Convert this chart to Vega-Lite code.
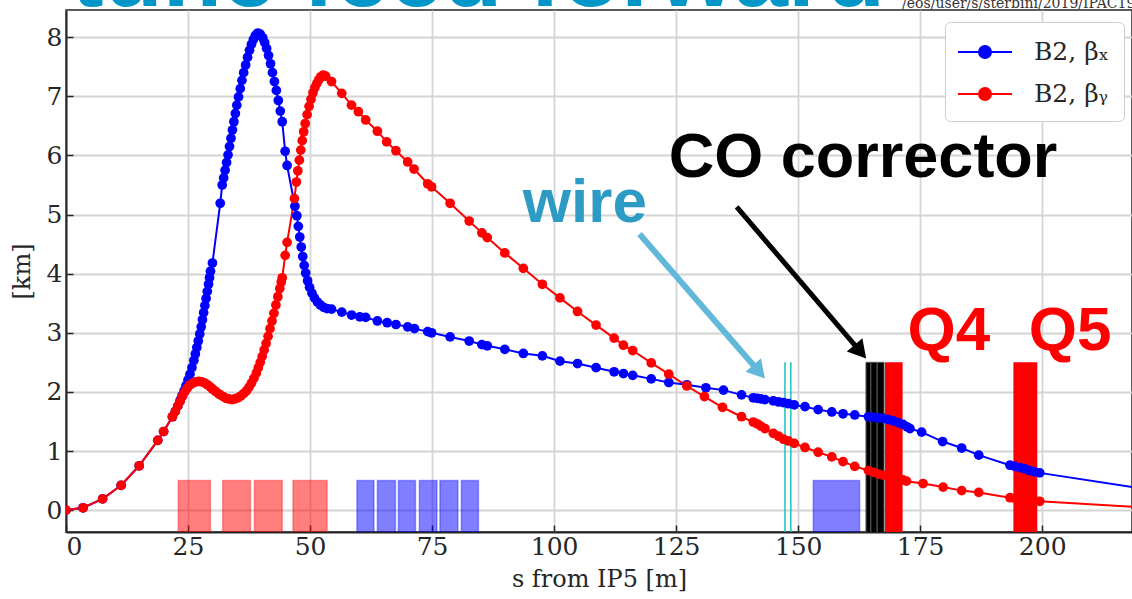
{
"$schema":"https://vega.github.io/schema/vega-lite/v6.json",
"autosize":{"type":"none"},
"width":1066,"height":522,
"padding":{"left":66,"top":10,"right":0,"bottom":67},
"background":"white",
"datasets":{
"elements":[
{"kind":"triplet","s0":23.0,"s1":29.6,"lo":-0.5,"hi":0.5},
{"kind":"triplet","s0":32.1,"s1":37.8,"lo":-0.5,"hi":0.5},
{"kind":"triplet","s0":38.6,"s1":44.3,"lo":-0.5,"hi":0.5},
{"kind":"triplet","s0":46.5,"s1":53.5,"lo":-0.5,"hi":0.5},
{"kind":"dipole","s0":59.6,"s1":63.1,"lo":-0.5,"hi":0.5},
{"kind":"dipole","s0":63.8,"s1":67.5,"lo":-0.5,"hi":0.5},
{"kind":"dipole","s0":68.1,"s1":71.6,"lo":-0.5,"hi":0.5},
{"kind":"dipole","s0":72.4,"s1":76.0,"lo":-0.5,"hi":0.5},
{"kind":"dipole","s0":76.6,"s1":80.3,"lo":-0.5,"hi":0.5},
{"kind":"dipole","s0":81.0,"s1":84.5,"lo":-0.5,"hi":0.5},
{"kind":"dipole","s0":153.1,"s1":162.6,"lo":-0.5,"hi":0.5},
{"kind":"corrector","s0":163.9,"s1":164.9,"lo":-0.5,"hi":2.5},
{"kind":"corrector","s0":164.9,"s1":166.2,"lo":-0.5,"hi":2.5},
{"kind":"corrector","s0":166.2,"s1":167.6,"lo":-0.5,"hi":2.5},
{"kind":"quad","s0":167.8,"s1":171.4,"lo":-0.5,"hi":2.5},
{"kind":"quad","s0":194.1,"s1":199.0,"lo":-0.5,"hi":2.5},
{"kind":"wire","s0":147.3,"s1":147.3,"lo":-0.5,"hi":2.5},
{"kind":"wire","s0":148.5,"s1":148.5,"lo":-0.5,"hi":2.5}
],
"labels":[
{"t":"wire","s":106.3,"y":4.87},
{"t":"CO corrector","s":163.3,"y":5.63},
{"t":"Q4","s":180.9,"y":2.71},
{"t":"Q5","s":205.7,"y":2.71},
{"t":"tune feed forward","s":167.8,"y":8.52},
{"t":"/eos/user/s/sterbini/2019/IPAC19","s":171.3,"y":8.50}
],
"arrows":[
{"name":"wire","s0":117.5,"y0":4.67,"s1":142.0,"y1":2.34},
{"name":"co","s0":137.4,"y0":5.13,"s1":162.75,"y1":2.68}
],
"optics":[
{"c":"x","s":0,"b":0},{"c":"x","s":3.5,"b":0.04},{"c":"x","s":7.5,"b":0.19},{"c":"x","s":11.3,"b":0.42},{"c":"x","s":15,"b":0.75},{"c":"x","s":18.8,"b":1.18},{"c":"x","s":20,"b":1.33},{"c":"x","s":21.8,"b":1.58},{"c":"x","s":22.4,"b":1.67},{"c":"x","s":22.9,"b":1.76},{"c":"x","s":23.4,"b":1.86},{"c":"x","s":23.8,"b":1.94},{"c":"x","s":24.2,"b":2.02},{"c":"x","s":24.6,"b":2.11},{"c":"x","s":25,"b":2.2},{"c":"x","s":25.4,"b":2.3},{"c":"x","s":25.8,"b":2.41},{"c":"x","s":26.2,"b":2.53},{"c":"x","s":26.5,"b":2.64},{"c":"x","s":26.8,"b":2.75},{"c":"x","s":27.1,"b":2.86},{"c":"x","s":27.4,"b":2.98},{"c":"x","s":27.7,"b":3.1},{"c":"x","s":27.95,"b":3.22},{"c":"x","s":28.2,"b":3.34},{"c":"x","s":28.45,"b":3.46},{"c":"x","s":28.7,"b":3.58},{"c":"x","s":28.95,"b":3.7},{"c":"x","s":29.2,"b":3.82},{"c":"x","s":29.4,"b":3.93},{"c":"x","s":29.6,"b":4.04},{"c":"x","s":30,"b":4.18},{"c":"x","s":31.6,"b":5.19},{"c":"x","s":32,"b":5.5},{"c":"x","s":32.3,"b":5.62},{"c":"x","s":32.6,"b":5.75},{"c":"x","s":32.9,"b":5.88},{"c":"x","s":33.2,"b":6.01},{"c":"x","s":33.5,"b":6.15},{"c":"x","s":33.8,"b":6.29},{"c":"x","s":34.1,"b":6.43},{"c":"x","s":34.4,"b":6.57},{"c":"x","s":34.7,"b":6.71},{"c":"x","s":35,"b":6.85},{"c":"x","s":35.35,"b":6.99},{"c":"x","s":35.7,"b":7.13},{"c":"x","s":36.05,"b":7.27},{"c":"x","s":36.4,"b":7.4},{"c":"x","s":36.8,"b":7.53},{"c":"x","s":37.2,"b":7.66},{"c":"x","s":37.6,"b":7.78},{"c":"x","s":38,"b":7.88},{"c":"x","s":38.4,"b":7.96},{"c":"x","s":38.8,"b":8.03},{"c":"x","s":39.3,"b":8.07},{"c":"x","s":39.8,"b":8.05},{"c":"x","s":40.3,"b":7.99},{"c":"x","s":40.7,"b":7.91},{"c":"x","s":41.1,"b":7.81},{"c":"x","s":41.5,"b":7.69},{"c":"x","s":41.9,"b":7.55},{"c":"x","s":42.3,"b":7.4},{"c":"x","s":42.7,"b":7.25},{"c":"x","s":43.1,"b":7.1},{"c":"x","s":43.5,"b":6.93},{"c":"x","s":43.9,"b":6.75},{"c":"x","s":44.3,"b":6.57},{"c":"x","s":44.9,"b":6.07},{"c":"x","s":45.3,"b":5.83},{"c":"x","s":46.9,"b":5.14},{"c":"x","s":47.3,"b":4.98},{"c":"x","s":47.6,"b":4.8},{"c":"x","s":47.9,"b":4.62},{"c":"x","s":48.2,"b":4.45},{"c":"x","s":48.5,"b":4.29},{"c":"x","s":48.8,"b":4.14},{"c":"x","s":49.1,"b":4.01},{"c":"x","s":49.5,"b":3.88},{"c":"x","s":49.9,"b":3.77},{"c":"x","s":50.4,"b":3.67},{"c":"x","s":50.9,"b":3.59},{"c":"x","s":51.5,"b":3.52},{"c":"x","s":52.1,"b":3.47},{"c":"x","s":52.8,"b":3.43},{"c":"x","s":53.5,"b":3.41},{"c":"x","s":54.4,"b":3.4},{"c":"x","s":56.5,"b":3.35},{"c":"x","s":58.5,"b":3.3},{"c":"x","s":60.2,"b":3.27},{"c":"x","s":61.4,"b":3.26},{"c":"x","s":63.8,"b":3.2},{"c":"x","s":65.8,"b":3.17},{"c":"x","s":67.6,"b":3.14},{"c":"x","s":70,"b":3.1},{"c":"x","s":71.4,"b":3.07},{"c":"x","s":74.1,"b":3.02},{"c":"x","s":74.9,"b":3.0},{"c":"x","s":78.7,"b":2.93},{"c":"x","s":82.6,"b":2.86},{"c":"x","s":85.2,"b":2.8},{"c":"x","s":86.3,"b":2.78},{"c":"x","s":89.9,"b":2.72},{"c":"x","s":93.7,"b":2.65},{"c":"x","s":97.6,"b":2.61},{"c":"x","s":101.2,"b":2.52},{"c":"x","s":104.8,"b":2.48},{"c":"x","s":108.6,"b":2.41},{"c":"x","s":112.3,"b":2.34},{"c":"x","s":114.2,"b":2.31},{"c":"x","s":116.1,"b":2.28},{"c":"x","s":119.9,"b":2.22},{"c":"x","s":123.5,"b":2.16},{"c":"x","s":127.2,"b":2.12},{"c":"x","s":131.1,"b":2.07},{"c":"x","s":134.7,"b":2.03},{"c":"x","s":138.4,"b":1.95},{"c":"x","s":140.8,"b":1.9},{"c":"x","s":141.6,"b":1.89},{"c":"x","s":142.4,"b":1.88},{"c":"x","s":143.2,"b":1.87},{"c":"x","s":144.9,"b":1.85},{"c":"x","s":146,"b":1.83},{"c":"x","s":147,"b":1.82},{"c":"x","s":148,"b":1.8},{"c":"x","s":149.2,"b":1.78},{"c":"x","s":151.4,"b":1.75},{"c":"x","s":154.1,"b":1.7},{"c":"x","s":156.9,"b":1.66},{"c":"x","s":159.2,"b":1.63},{"c":"x","s":161.6,"b":1.61},{"c":"x","s":164.4,"b":1.58},{"c":"x","s":165.5,"b":1.57},{"c":"x","s":166.5,"b":1.56},{"c":"x","s":167.5,"b":1.55},{"c":"x","s":168.5,"b":1.53},{"c":"x","s":169.5,"b":1.51},{"c":"x","s":170.5,"b":1.48},{"c":"x","s":171.5,"b":1.45},{"c":"x","s":172.3,"b":1.41},{"c":"x","s":172.9,"b":1.38},{"c":"x","s":175.3,"b":1.32},{"c":"x","s":179.6,"b":1.16},{"c":"x","s":183.5,"b":1.05},{"c":"x","s":187,"b":0.93},{"c":"x","s":193.4,"b":0.76},{"c":"x","s":194.4,"b":0.74},{"c":"x","s":195.4,"b":0.72},{"c":"x","s":196.4,"b":0.7},{"c":"x","s":197.4,"b":0.67},{"c":"x","s":198.4,"b":0.65},{"c":"x","s":199.5,"b":0.63},{"c":"x","s":222,"b":0.345},
{"c":"y","s":0,"b":0},{"c":"y","s":3.5,"b":0.04},{"c":"y","s":7.5,"b":0.19},{"c":"y","s":11.3,"b":0.42},{"c":"y","s":15,"b":0.75},{"c":"y","s":18.8,"b":1.18},{"c":"y","s":20,"b":1.33},{"c":"y","s":21.8,"b":1.58},{"c":"y","s":22.4,"b":1.67},{"c":"y","s":22.9,"b":1.76},{"c":"y","s":23.4,"b":1.84},{"c":"y","s":23.9,"b":1.93},{"c":"y","s":24.4,"b":2.01},{"c":"y","s":24.9,"b":2.07},{"c":"y","s":25.4,"b":2.12},{"c":"y","s":26,"b":2.15},{"c":"y","s":26.6,"b":2.17},{"c":"y","s":27.2,"b":2.18},{"c":"y","s":27.8,"b":2.17},{"c":"y","s":28.4,"b":2.15},{"c":"y","s":29,"b":2.12},{"c":"y","s":29.6,"b":2.08},{"c":"y","s":30,"b":2.05},{"c":"y","s":30.6,"b":2.01},{"c":"y","s":31.2,"b":1.97},{"c":"y","s":31.6,"b":1.95},{"c":"y","s":32.2,"b":1.92},{"c":"y","s":32.8,"b":1.89},{"c":"y","s":33.4,"b":1.88},{"c":"y","s":34,"b":1.87},{"c":"y","s":34.6,"b":1.88},{"c":"y","s":35.2,"b":1.9},{"c":"y","s":35.8,"b":1.93},{"c":"y","s":36.4,"b":1.97},{"c":"y","s":37,"b":2.02},{"c":"y","s":37.5,"b":2.08},{"c":"y","s":38,"b":2.15},{"c":"y","s":38.5,"b":2.23},{"c":"y","s":39,"b":2.32},{"c":"y","s":39.4,"b":2.41},{"c":"y","s":39.8,"b":2.5},{"c":"y","s":40.2,"b":2.6},{"c":"y","s":40.6,"b":2.71},{"c":"y","s":41,"b":2.82},{"c":"y","s":41.4,"b":2.94},{"c":"y","s":41.8,"b":3.07},{"c":"y","s":42.2,"b":3.2},{"c":"y","s":42.6,"b":3.33},{"c":"y","s":43,"b":3.47},{"c":"y","s":43.4,"b":3.61},{"c":"y","s":43.8,"b":3.75},{"c":"y","s":44.1,"b":3.86},{"c":"y","s":44.3,"b":3.93},{"c":"y","s":44.9,"b":4.31},{"c":"y","s":45.3,"b":4.53},{"c":"y","s":46.8,"b":5.27},{"c":"y","s":47.2,"b":5.55},{"c":"y","s":47.5,"b":5.74},{"c":"y","s":47.8,"b":5.92},{"c":"y","s":48.1,"b":6.09},{"c":"y","s":48.4,"b":6.25},{"c":"y","s":48.7,"b":6.4},{"c":"y","s":49,"b":6.54},{"c":"y","s":49.4,"b":6.69},{"c":"y","s":49.8,"b":6.83},{"c":"y","s":50.2,"b":6.95},{"c":"y","s":50.6,"b":7.06},{"c":"y","s":51,"b":7.15},{"c":"y","s":51.4,"b":7.22},{"c":"y","s":51.8,"b":7.28},{"c":"y","s":52.2,"b":7.33},{"c":"y","s":52.7,"b":7.36},{"c":"y","s":53.2,"b":7.34},{"c":"y","s":54.4,"b":7.25},{"c":"y","s":56.5,"b":7.05},{"c":"y","s":58.5,"b":6.85},{"c":"y","s":59.9,"b":6.74},{"c":"y","s":61.4,"b":6.6},{"c":"y","s":63.8,"b":6.41},{"c":"y","s":65.7,"b":6.23},{"c":"y","s":67.6,"b":6.08},{"c":"y","s":70,"b":5.89},{"c":"y","s":71.3,"b":5.77},{"c":"y","s":74.1,"b":5.52},{"c":"y","s":74.9,"b":5.47},{"c":"y","s":78.7,"b":5.19},{"c":"y","s":82.6,"b":4.89},{"c":"y","s":85.2,"b":4.69},{"c":"y","s":86.3,"b":4.61},{"c":"y","s":89.9,"b":4.35},{"c":"y","s":93.7,"b":4.09},{"c":"y","s":97.6,"b":3.82},{"c":"y","s":101.2,"b":3.59},{"c":"y","s":104.8,"b":3.36},{"c":"y","s":108.6,"b":3.13},{"c":"y","s":112.3,"b":2.91},{"c":"y","s":114.2,"b":2.79},{"c":"y","s":116.1,"b":2.7},{"c":"y","s":119.9,"b":2.49},{"c":"y","s":123.5,"b":2.3},{"c":"y","s":127.2,"b":2.1},{"c":"y","s":130.8,"b":1.92},{"c":"y","s":134.5,"b":1.74},{"c":"y","s":138.4,"b":1.58},{"c":"y","s":140.8,"b":1.49},{"c":"y","s":141.6,"b":1.46},{"c":"y","s":142.4,"b":1.42},{"c":"y","s":143.2,"b":1.38},{"c":"y","s":144.9,"b":1.3},{"c":"y","s":146,"b":1.25},{"c":"y","s":147,"b":1.2},{"c":"y","s":148,"b":1.17},{"c":"y","s":149.2,"b":1.13},{"c":"y","s":151.4,"b":1.06},{"c":"y","s":154.1,"b":0.98},{"c":"y","s":156.9,"b":0.9},{"c":"y","s":159.2,"b":0.82},{"c":"y","s":161.6,"b":0.74},{"c":"y","s":164.4,"b":0.67},{"c":"y","s":165.5,"b":0.64},{"c":"y","s":166.5,"b":0.61},{"c":"y","s":167.5,"b":0.59},{"c":"y","s":168.5,"b":0.57},{"c":"y","s":169.5,"b":0.55},{"c":"y","s":170.5,"b":0.53},{"c":"y","s":171.5,"b":0.51},{"c":"y","s":172.2,"b":0.49},{"c":"y","s":175.6,"b":0.45},{"c":"y","s":179.7,"b":0.39},{"c":"y","s":183.5,"b":0.33},{"c":"y","s":187,"b":0.3},{"c":"y","s":193.4,"b":0.21},{"c":"y","s":194.4,"b":0.2},{"c":"y","s":195.4,"b":0.19},{"c":"y","s":196.4,"b":0.18},{"c":"y","s":197.4,"b":0.17},{"c":"y","s":198.4,"b":0.16},{"c":"y","s":199.5,"b":0.15},{"c":"y","s":222,"b":0.04}
]
},
"layer":[
{"data":{"name":"elements"},"transform":[{"filter":"datum.kind=='triplet'"}],
 "mark":{"type":"rect","fill":"#ff0000","fillOpacity":0.5,"stroke":"#ff0000","strokeOpacity":0.35,"strokeWidth":1.5,"clip":true},
 "encoding":{
  "x":{"field":"s0","type":"quantitative","scale":{"domain":[0,218.4],"nice":false,"zero":false},
       "axis":{"values":[0,25,50,75,100,125,150,175,200],"format":"d","title":"s from IP5 [m]","labelPadding":9,"titlePadding":8}},
  "x2":{"field":"s1"},
  "y":{"field":"lo","type":"quantitative","scale":{"domain":[-0.37,8.46],"nice":false,"zero":false},
       "axis":{"values":[0,1,2,3,4,5,6,7,8],"format":"d","title":"[km]","labelPadding":11,"titlePadding":12}},
  "y2":{"field":"hi"}}},
{"data":{"name":"elements"},"transform":[{"filter":"datum.kind=='dipole'"}],
 "mark":{"type":"rect","fill":"#0000ff","fillOpacity":0.5,"stroke":"#0000ff","strokeOpacity":0.35,"strokeWidth":1.5,"clip":true},
 "encoding":{"x":{"field":"s0","type":"quantitative"},"x2":{"field":"s1"},"y":{"field":"lo","type":"quantitative"},"y2":{"field":"hi"}}},
{"data":{"name":"elements"},"transform":[{"filter":"datum.kind=='corrector'"}],
 "mark":{"type":"rect","fill":"#000000","stroke":"#555555","strokeWidth":1,"clip":true},
 "encoding":{"x":{"field":"s0","type":"quantitative"},"x2":{"field":"s1"},"y":{"field":"lo","type":"quantitative"},"y2":{"field":"hi"}}},
{"data":{"name":"elements"},"transform":[{"filter":"datum.kind=='quad'"}],
 "mark":{"type":"rect","fill":"#ff0000","clip":true},
 "encoding":{"x":{"field":"s0","type":"quantitative"},"x2":{"field":"s1"},"y":{"field":"lo","type":"quantitative"},"y2":{"field":"hi"}}},
{"data":{"name":"elements"},"transform":[{"filter":"datum.kind=='wire'"}],
 "mark":{"type":"rule","color":"#1fbfbf","strokeWidth":1.5,"clip":true},
 "encoding":{"x":{"field":"s0","type":"quantitative"},"y":{"field":"lo","type":"quantitative"},"y2":{"field":"hi"}}},
{"data":{"name":"optics"},
 "mark":{"type":"line","strokeWidth":2,"clip":true},
 "encoding":{"x":{"field":"s","type":"quantitative"},"y":{"field":"b","type":"quantitative"},
  "color":{"field":"c","type":"nominal","scale":{"domain":["x","y"],"range":["#0000ff","#ff0000"]},
   "legend":{"title":null,"orient":"none","legendX":879,"legendY":12,"labelExpr":"'B2, β' + (datum.label == 'x' ? 'ₓ' : 'ᵧ')",
    "symbolType":"M-1.8,0L1.8,0M-0.4,0A0.4,0.4,0,1,1,0.4,0A0.4,0.4,0,1,1,-0.4,0Z","symbolSize":900,"symbolStrokeWidth":2,
    "symbolOffset":10,"labelOffset":33,"padding":14,"rowPadding":13,"labelFontSize":25,"labelFont":"DejaVu Serif","labelColor":"#262626",
    "fillColor":"white","strokeColor":"#cccccc","cornerRadius":5}}}},
{"data":{"name":"optics"},"transform":[{"filter":"datum.s <= 205"}],
 "mark":{"type":"point","filled":true,"size":95,"opacity":1,"clip":true},
 "encoding":{"x":{"field":"s","type":"quantitative"},"y":{"field":"b","type":"quantitative"},
  "color":{"field":"c","type":"nominal"}}},
{"data":{"name":"arrows"},"transform":[{"filter":"datum.name=='wire'"}],
 "mark":{"type":"rule","color":"#62b8d8","strokeWidth":6},
 "encoding":{"x":{"field":"s0","type":"quantitative"},"y":{"field":"y0","type":"quantitative"},"x2":{"field":"s1"},"y2":{"field":"y1"}}},
{"data":{"name":"arrows"},"transform":[{"filter":"datum.name=='wire'"}],
 "mark":{"type":"point","shape":"triangle-up","filled":true,"color":"#62b8d8","opacity":1,"size":420,"angle":139},
 "encoding":{"x":{"field":"s1","type":"quantitative"},"y":{"field":"y1","type":"quantitative"}}},
{"data":{"name":"arrows"},"transform":[{"filter":"datum.name=='co'"}],
 "mark":{"type":"rule","color":"#000000","strokeWidth":5},
 "encoding":{"x":{"field":"s0","type":"quantitative"},"y":{"field":"y0","type":"quantitative"},"x2":{"field":"s1"},"y2":{"field":"y1"}}},
{"data":{"name":"arrows"},"transform":[{"filter":"datum.name=='co'"}],
 "mark":{"type":"point","shape":"triangle-up","filled":true,"color":"#000000","opacity":1,"size":420,"angle":139.5},
 "encoding":{"x":{"field":"s1","type":"quantitative"},"y":{"field":"y1","type":"quantitative"}}},
{"data":{"name":"labels"},"transform":[{"filter":"datum.t=='wire'"}],
 "mark":{"type":"text","font":"Liberation Sans","fontWeight":"bold","fontSize":62,"color":"#2e9bc4","align":"center","baseline":"alphabetic"},
 "encoding":{"x":{"field":"s","type":"quantitative"},"y":{"field":"y","type":"quantitative"},"text":{"field":"t"}}},
{"data":{"name":"labels"},"transform":[{"filter":"datum.t=='CO corrector'"}],
 "mark":{"type":"text","font":"Liberation Sans","fontWeight":"bold","fontSize":63,"color":"#000000","align":"center","baseline":"alphabetic"},
 "encoding":{"x":{"field":"s","type":"quantitative"},"y":{"field":"y","type":"quantitative"},"text":{"field":"t"}}},
{"data":{"name":"labels"},"transform":[{"filter":"datum.t=='Q4' || datum.t=='Q5'"}],
 "mark":{"type":"text","font":"Liberation Sans","fontWeight":"bold","fontSize":62,"color":"#ff0000","align":"center","baseline":"alphabetic"},
 "encoding":{"x":{"field":"s","type":"quantitative"},"y":{"field":"y","type":"quantitative"},"text":{"field":"t"}}},
{"data":{"name":"labels"},"transform":[{"filter":"datum.t=='tune feed forward'"}],
 "mark":{"type":"text","font":"Liberation Sans","fontWeight":"bold","fontSize":97,"color":"#0096c8","align":"right","baseline":"alphabetic"},
 "encoding":{"x":{"field":"s","type":"quantitative"},"y":{"field":"y","type":"quantitative"},"text":{"field":"t"}}},
{"data":{"name":"labels"},"transform":[{"filter":"datum.t=='/eos/user/s/sterbini/2019/IPAC19'"}],
 "mark":{"type":"text","font":"DejaVu Serif","fontSize":14,"color":"#333333","align":"left","baseline":"alphabetic"},
 "encoding":{"x":{"field":"s","type":"quantitative"},"y":{"field":"y","type":"quantitative"},"text":{"field":"t"}}}
],
"config":{
 "font":"DejaVu Serif",
 "view":{"stroke":"#262626","strokeWidth":1.5},
 "axis":{"domainColor":"#262626","domainWidth":2,"tickColor":"#262626","tickWidth":1.5,"tickSize":-7,
  "gridColor":"#d4d4d4","gridWidth":1.8,"labelFont":"DejaVu Serif","labelFontSize":25,"labelColor":"#262626",
  "titleFont":"DejaVu Serif","titleFontSize":24,"titleFontWeight":"normal","titleColor":"#262626"}
}
}
